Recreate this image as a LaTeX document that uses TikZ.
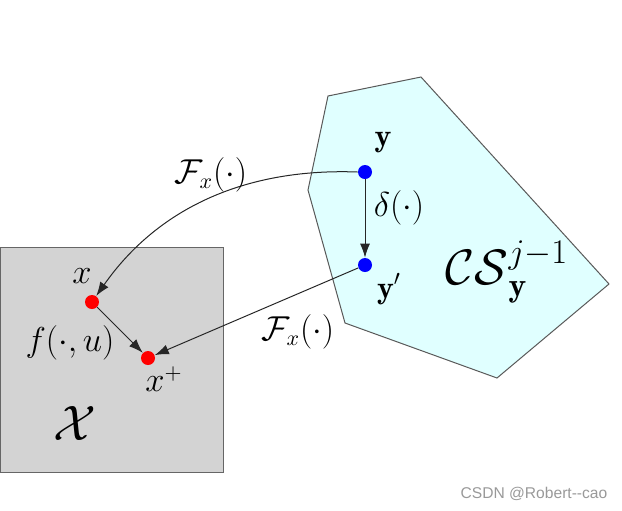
\documentclass[tikz,border=0pt]{standalone}
\usepackage{fontspec}
\newfontfamily\wmfont{Liberation Sans}
\usetikzlibrary{arrows.meta}
\definecolor{setcyan}{RGB}{224,255,255}
\definecolor{setgray}{RGB}{211,211,211}
\begin{document}
\begin{tikzpicture}[x=0.5pt,y=-0.5pt,
  lbl/.style={inner sep=0pt,font=\fontsize{16}{19}\selectfont},
  reddot/.style={circle,fill=red,inner sep=0pt,minimum size=7pt},
  bluedot/.style={circle,fill=blue,inner sep=0pt,minimum size=7pt},
  arr/.style={line width=0.5pt,draw=black!85,-{Latex[length=7pt,width=5pt]}}]
\useasboundingbox (0,0) rectangle (622,510);
% sets
\draw[line width=0.5pt,draw=black!60,fill=setgray] (0,247) rectangle (223,472);
\draw[line width=0.5pt,draw=black!65,fill=setcyan] (328,96) -- (421,77) -- (609,284) -- (497,378) -- (345,323) -- (308,190) -- cycle;
% points
\node[bluedot] (y) at (365,172) {};
\node[bluedot] (yp) at (365,265) {};
\node[reddot] (x) at (92,302) {};
\node[reddot] (xp) at (148,358) {};
% connectors
\draw[arr] (y) -- (yp);
\draw[arr] (x) -- (xp);
\draw[arr] (y.west) .. controls (250,168) and (160,205) .. (x);
\draw[arr] (yp) -- (xp);
% labels
\node[lbl] (ly) at (383,143) {$\mathbf{y}$};
\node[lbl] (lyp) at (389,289) {$\mathbf{y}'$};
\node[lbl] (ld) at (399,208) {$\delta(\cdot)$};
\node[lbl] (lx) at (82,276) {$x$};
\node[lbl] (lxp) at (164,379) {$x^{+}$};
\node[lbl] (lf) at (70,343) {$f(\cdot,u)$};
\node[lbl] (lF1) at (211,175) {$\mathcal{F}_x(\cdot)$};
\node[lbl] (lF2) at (298,332) {$\mathcal{F}_x(\cdot)$};
\node[inner sep=0pt,font=\fontsize{24}{28}\selectfont] (lX) at (75,423) {$\mathcal{X}$};
\node[inner sep=0pt,font=\fontsize{24}{28}\selectfont] (lCS) at (507,272) {$\mathcal{CS}^{j-1}_{\mathbf{y}}$};
\node[inner sep=0pt,text=black!40,font=\wmfont\fontsize{7.8}{9}\selectfont] (wm) at (534,494) {CSDN @Robert{-}{-}cao};
\end{tikzpicture}
\end{document}
